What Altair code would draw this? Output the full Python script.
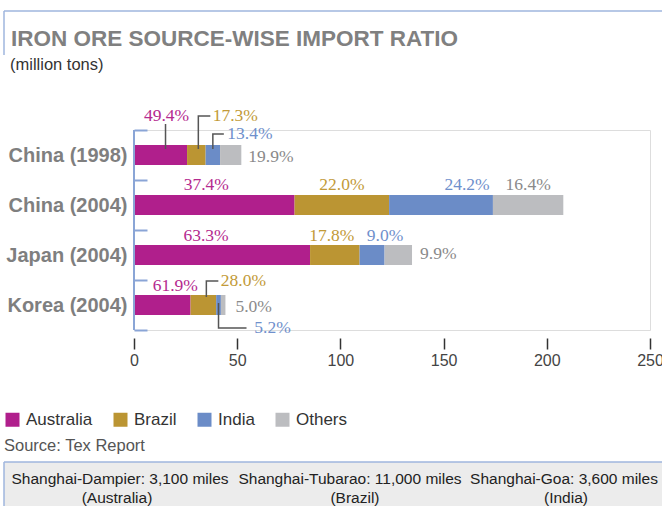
import altair as alt
import pandas as pd

# ---------------- data ----------------
groups = ["China (1998)", "China (2004)", "Japan (2004)", "Korea (2004)"]
sources = ["Australia", "Brazil", "India", "Others"]
australia = [25.7, 77.8, 85.3, 27.4]
brazil = [9.0, 45.8, 24.0, 12.4]
india = [7.0, 50.3, 12.1, 2.3]
others = [10.3, 34.1, 13.3, 2.2]
pct_australia = ["49.4%", "37.4%", "63.3%", "61.9%"]
pct_brazil = ["17.3%", "22.0%", "17.8%", "28.0%"]
pct_india = ["13.4%", "24.2%", "9.0%", "5.2%"]
pct_others = ["19.9%", "16.4%", "9.9%", "5.0%"]
x_ticks = [0, 50, 100, 150, 200, 250]
routes = ["Shanghai-Dampier: 3,100 miles", "Shanghai-Tubarao: 11,000 miles", "Shanghai-Goa: 3,600 miles"]
route_countries = ["(Australia)", "(Brazil)", "(India)"]
title_text = "IRON ORE SOURCE-WISE IMPORT RATIO"
unit_text = "(million tons)"
source_text = "Source: Tex Report"

# ---------------- styles / layout ----------------
bar_colors = ["#b01f8c", "#bb9533", "#6b8cc7", "#bcbdc0"]
label_colors = ["#b52a8f", "#c29a38", "#6f90cc", "#8a8a8a"]
frame_blue = "#9fb6de"
axis_blue = "#8aa5d6"
W, H = 516, 200
PX = W / 250.0
LEFT, TOP = 134, 130
HALF_BAND = H / len(groups) / 2  # offsets are measured from band start

# label placement: (anchor mode, dx px, dy px from bar centre) per group, per source
label_layout = [
    [("mid", 6, -39), ("mid", 39, -39), ("mid", 37, -21), ("end", 7, 2)],
    [("mid", -8, -20), ("mid", 0, -20), ("mid", 26, -20), ("mid", 0, -20)],
    [("mid", -16, -19), ("mid", -3, -19), ("mid", 13, -19), ("end", 8, -1)],
    [("mid", 13, -19), ("mid", 40, -24), ("mid", 54, 23), ("end", 10, 2)],
]
# leader lines: group idx, source idx, points (dx px, dy px) relative to segment middle
leader_layout = [
    (0, 0, [(5, -6), (5, -31)]),
    (0, 1, [(2, -6), (2, -39), (14, -39)]),
    (0, 2, [(0, -6), (0, -21), (11, -21)]),
    (3, 1, [(3, -8), (3, -24), (15, -24)]),
    (3, 2, [(0, -2), (0, 23), (28, 23)]),
]

# ---------------- tables ----------------
series = [australia, brazil, india, others]
pcts = [pct_australia, pct_brazil, pct_india, pct_others]
rows = []
for gi, g in enumerate(groups):
    start = 0.0
    for si, s in enumerate(sources):
        v = series[si][gi]
        mode, dx, dy = label_layout[gi][si]
        anchor = start + v / 2 if mode == "mid" else start + v
        rows.append(dict(group=g, source=s, start=start, end=start + v,
                         mid=start + v / 2, pct=pcts[si][gi], mode=mode,
                         lx=anchor + dx / PX, dy=dy + HALF_BAND))
        start += v
bars = pd.DataFrame(rows)

lrows = []
for li, (gi, si, pts) in enumerate(leader_layout):
    r = bars[(bars.group == groups[gi]) & (bars.source == sources[si])].iloc[0]
    for k, (dx, dy) in enumerate(pts):
        lrows.append(dict(lid=li, idx=k, group=groups[gi], lx=r["mid"] + dx / PX,
                          dy=dy + HALF_BAND))
leaders = pd.DataFrame(lrows)

xscale = alt.Scale(domain=[0, 250], nice=False, zero=True)
xaxis = alt.Axis(values=x_ticks, domain=False, grid=False, tickColor="#333333",
                 tickSize=11, tickWidth=1.5, offset=8, labelPadding=3,
                 labelFontSize=16, labelColor="#444444", labelFont="Liberation Sans",
                 labelFlush=False, labelOverlap=False, title=None)
yscale = alt.Scale(domain=groups, paddingInner=0, paddingOuter=0)
yaxis = alt.Axis(orient="left", offset=-13, tickSize=13, tickBand="extent",
                 domain=False, grid=False, tickColor=axis_blue, tickWidth=2,
                 labelFont="Liberation Sans", labelFontWeight="bold",
                 labelFontSize=20, labelColor="#7f7f7f", labelPadding=7, title=None)
y_enc = alt.Y("group:N", sort=groups, scale=yscale, axis=yaxis, title=None)

bar_layer = alt.Chart(bars).mark_bar(size=20).encode(
    x=alt.X("start:Q", scale=xscale, axis=xaxis, title=None),
    x2="end:Q",
    y=y_enc,
    color=alt.Color("source:N", scale=alt.Scale(domain=sources, range=bar_colors),
                    legend=alt.Legend(orient="none", legendX=-130, legendY=281,
                                      direction="horizontal", title=None,
                                      symbolType="square", symbolSize=196,
                                      symbolStrokeWidth=0, labelFontSize=17,
                                      labelColor="#333333", labelFont="Liberation Sans",
                                      columnPadding=19, labelOffset=5, padding=0)),
)

def label_layer(mode, align):
    return alt.Chart(bars[bars["mode"] == mode]).mark_text(
        align=align, baseline="middle", font="Liberation Serif", fontSize=17.5
    ).encode(
        x=alt.X("lx:Q", scale=xscale, axis=xaxis, title=None),
        y=y_enc,
        yOffset=alt.YOffset("dy:Q", scale=None),
        text="pct:N",
        color=alt.Color("source:N", scale=alt.Scale(domain=sources, range=label_colors),
                        legend=None),
    )

leader_layer = alt.Chart(leaders).mark_line(color="#555555", strokeWidth=1.5).encode(
    x=alt.X("lx:Q", scale=xscale, axis=xaxis, title=None),
    y=y_enc,
    yOffset=alt.YOffset("dy:Q", scale=None),
    detail="lid:N",
    order="idx:Q",
)

dec = pd.DataFrame({"d": [0]})
def px(x):
    return x - LEFT
def py(y):
    return y - TOP

top_line = alt.Chart(dec).mark_rule(color=frame_blue, strokeWidth=1.5).encode(
    x=alt.value(px(4)), x2=alt.value(px(662)), y=alt.value(py(11)))
left_line = alt.Chart(dec).mark_rule(color=frame_blue, strokeWidth=1.5).encode(
    x=alt.value(px(4)), y=alt.value(py(11)), y2=alt.value(py(55)))
axis_line = alt.Chart(dec).mark_rule(color=axis_blue, strokeWidth=2).encode(
    x=alt.value(0), y=alt.value(0), y2=alt.value(H))
table_rect = alt.Chart(dec).mark_rect(color="#ececec").encode(
    x=alt.value(px(4)), x2=alt.value(px(662)), y=alt.value(py(462)), y2=alt.value(py(506)))
table_top = alt.Chart(dec).mark_rule(color=frame_blue, strokeWidth=1.5).encode(
    x=alt.value(px(4)), x2=alt.value(px(662)), y=alt.value(py(462)))
table_left = alt.Chart(dec).mark_rule(color=frame_blue, strokeWidth=1.5).encode(
    x=alt.value(px(4)), y=alt.value(py(462)), y2=alt.value(py(506)))

def text_at(txt, x, y, size, color, weight="normal", align="left"):
    return alt.Chart(dec).mark_text(
        text=txt, align=align, baseline="alphabetic", font="Liberation Sans",
        fontSize=size, fontWeight=weight, color=color
    ).encode(x=alt.value(px(x)), y=alt.value(py(y)))

title_layer = text_at(title_text, 11, 46, 22.5, "#808080", weight="bold")
unit_layer = text_at(unit_text, 10, 70, 16.5, "#333333")
source_layer = text_at(source_text, 4, 451, 16.5, "#555555")
route_x1 = [120, 350, 564]
route_x2 = [117, 355, 566]
table_texts = []
for i in range(3):
    table_texts.append(text_at(routes[i], route_x1[i], 484, 15.5, "#222222", align="center"))
    table_texts.append(text_at(route_countries[i], route_x2[i], 503, 15.5, "#222222", align="center"))

chart = alt.layer(
    top_line, left_line, table_rect, table_top, table_left,
    bar_layer, axis_line, leader_layer,
    label_layer("mid", "center"), label_layer("end", "left"),
    title_layer, unit_layer, source_layer, *table_texts,
).resolve_scale(color="independent").properties(
    width=W, height=H,
    autosize=alt.AutoSizeParams(type="none"),
    padding={"left": LEFT, "top": TOP, "right": 662 - LEFT - W, "bottom": 506 - TOP - H},
    background="white",
).configure_view(stroke=None).configure(font="Liberation Sans")

chart.save("out.html", embed_options={"renderer": "svg", "actions": False})
